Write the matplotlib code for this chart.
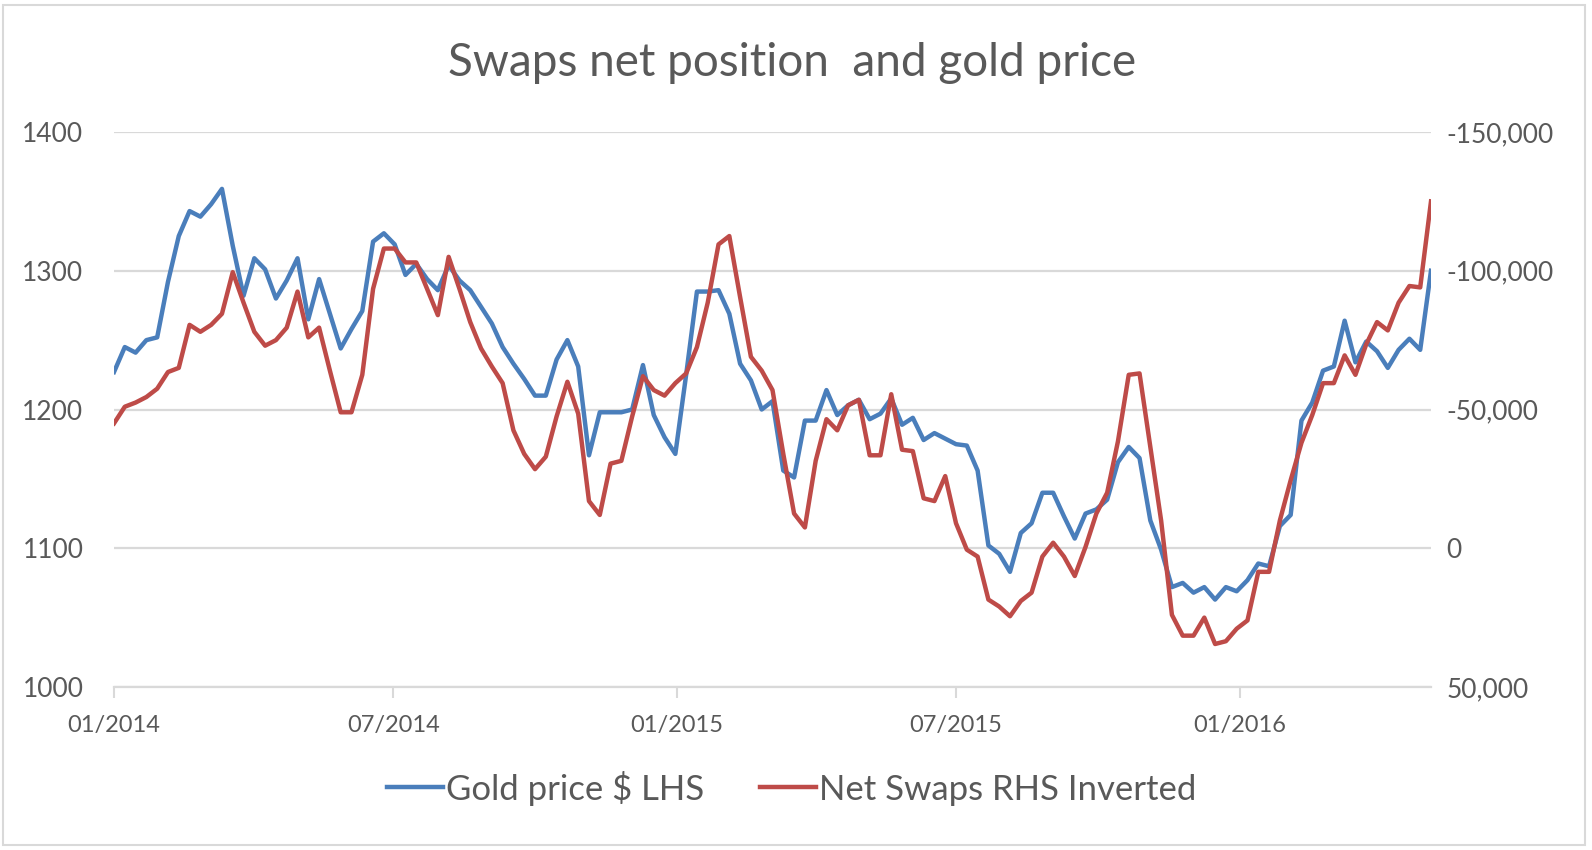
import matplotlib
matplotlib.use('Agg')
import matplotlib.pyplot as plt
import matplotlib.ticker as mticker
from matplotlib.patches import Rectangle
import pandas as pd

#-----------------------------------------------------------------------------#
# data (weekly)

START = '2014-01-07'

gold = [
    1227, 1245, 1241, 1250, 1252, 1292, 1325, 1343, 1339, 1348, 1359, 1318,
    1282, 1309, 1301, 1280, 1293, 1309, 1265, 1294, 1269, 1244, 1258, 1271,
    1321, 1327, 1319, 1297, 1305, 1294, 1286, 1304, 1293, 1286, 1274, 1262,
    1245, 1233, 1222, 1210, 1210, 1236, 1250, 1231, 1167, 1198, 1198, 1198,
    1200, 1232, 1196, 1180, 1168, 1225, 1285, 1285, 1286, 1269, 1233, 1221,
    1200, 1206, 1156, 1151, 1192, 1192, 1214, 1196, 1203, 1207, 1193, 1197,
    1208, 1189, 1194, 1178, 1183, 1179, 1175, 1174, 1156, 1102, 1096, 1083,
    1111, 1118, 1140, 1140, 1123, 1107, 1125, 1128, 1135, 1162, 1173, 1165,
    1120, 1099, 1072, 1075, 1068, 1072, 1063, 1072, 1069, 1077, 1089, 1087,
    1116, 1124, 1192, 1205, 1228, 1231, 1264, 1234, 1249, 1242, 1230, 1243,
    1251, 1243, 1300,
]

net_swaps = [
    -45000, -51000, -52500, -54500, -57500, -63500, -65000, -80500, -78000,
    -80500, -84500, -99500, -88500, -78000, -73000, -75000, -79500, -92500,
    -76000, -79500, -64000, -49000, -49000, -62500, -93500, -108000, -108000,
    -103000, -103000, -93500, -84000, -105000, -93500, -81500, -72000, -65500,
    -59500, -42500, -34000, -28500, -33000, -47500, -60000, -48500, -17000,
    -12000, -30500, -31500, -47500, -62000, -57000, -55000, -59500, -63000,
    -72500, -88500, -109500, -112500, -90500, -69000, -64000, -57000, -34000,
    -12500, -7500, -31500, -46500, -42500, -51500, -53500, -33500, -33500,
    -55500, -35500, -35000, -18000, -17000, -26000, -9000, 500, 3000, 18500,
    21000, 24500, 19000, 16000, 3000, -2000, 3000, 10000, -500, -12500,
    -20000, -38500, -62500, -63000, -36500, -10000, 24000, 31500, 31500,
    25000, 34500, 33500, 29000, 26000, 8500, 8500, -10000, -24500, -38000,
    -48000, -59500, -59500, -69500, -62500, -73500, -81500, -78500, -88500,
    -94500, -94000, -125000,
]

x_ticks = ['2014-01-07', '2014-07-07', '2015-01-07', '2015-07-07', '2016-01-07']
x_tick_labels = ['01/2014', '07/2014', '01/2015', '07/2015', '01/2016']
left_ticks = [1000, 1100, 1200, 1300, 1400]
right_ticks = [50000, 0, -50000, -100000, -150000]

TITLE = 'Swaps net position  and gold price'
GOLD_LABEL = 'Gold price $ LHS'
SWAPS_LABEL = 'Net Swaps RHS Inverted'

#-----------------------------------------------------------------------------#
# style

BLUE = '#4A7EBB'
RED = '#BE4B48'
GRID = '#D9D9D9'
TEXT = '#595959'
plt.rcParams['font.family'] = ['Lato', 'DejaVu Sans']

W, H = 1592, 850

#-----------------------------------------------------------------------------#
# plot

dates = pd.date_range(START, periods=len(gold), freq='7D')

fig = plt.figure(figsize=(W / 100, H / 100), dpi=100)
fig.patches.append(Rectangle((3 / W, 5 / H), (1585 - 3) / W, (845 - 5) / H,
                             transform=fig.transFigure, fill=False,
                             edgecolor=GRID, lw=1.5))

left, right, top, bottom = 114, 1431, 132, 687
ax = fig.add_axes([left / W, 1 - bottom / H, (right - left) / W, (bottom - top) / H])
ax2 = ax.twinx()

l1, = ax.plot(dates, gold, color=BLUE, lw=3.2, label=GOLD_LABEL,
              solid_joinstyle='round', zorder=3)
l2, = ax2.plot(dates, net_swaps, color=RED, lw=3.2, label=SWAPS_LABEL,
               solid_joinstyle='round', zorder=3)

ax.set_ylim(1000, 1400)
ax.set_yticks(left_ticks)
ax2.set_ylim(50000, -150000)
ax2.set_yticks(right_ticks)
ax2.yaxis.set_major_formatter(mticker.FuncFormatter(lambda v, p: f'{v:,.0f}'))

ax.set_xlim(dates[0], dates[-1])
ax.set_xticks(pd.to_datetime(x_ticks))
ax.set_xticklabels(x_tick_labels)

ax.grid(axis='y', color=GRID, lw=1.6)
ax.set_axisbelow(True)

for a in (ax, ax2):
    for s in ('top', 'left', 'right'):
        a.spines[s].set_visible(False)
    a.spines['bottom'].set_color(GRID)
    a.spines['bottom'].set_linewidth(1.6)
ax2.spines['bottom'].set_visible(False)

ax.tick_params(axis='y', length=0, pad=22, labelsize=19, labelcolor=TEXT)
ax2.tick_params(axis='y', length=0, pad=11, labelsize=19, labelcolor=TEXT)
ax.tick_params(axis='x', length=8, width=1.5, color=GRID, pad=12,
               labelsize=17, labelcolor=TEXT)

fig.text(792 / W, 1 - 63 / H, TITLE, ha='center', va='center',
         fontsize=33, color=TEXT)

fig.legend([l1, l2], [GOLD_LABEL, SWAPS_LABEL], loc='center',
           bbox_to_anchor=(792 / W, 1 - 788 / H), ncol=2, frameon=False,
           fontsize=25, handlelength=1.6, handletextpad=0.1,
           columnspacing=1.6, labelcolor=TEXT)

fig.savefig('out.png', dpi=100, facecolor='white')
